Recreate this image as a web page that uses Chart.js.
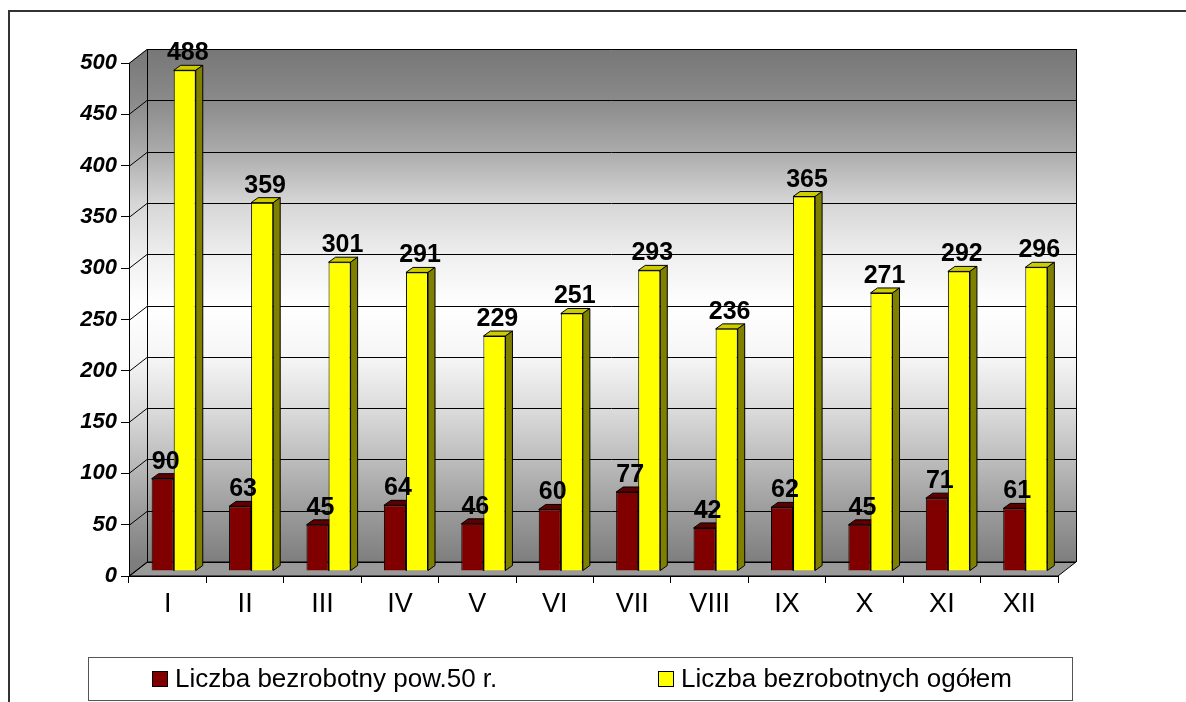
<!DOCTYPE html>
<html>
<head>
<meta charset="utf-8">
<script src="https://cdn.jsdelivr.net/npm/chart.js@4.4.1/dist/chart.umd.min.js"></script>
<style>
    html, body { margin: 0; padding: 0; background: #fff; }
    #wrap { width: 1186px; height: 702px; position: relative; }
</style>
</head>
<body>
<div id="wrap"><canvas id="chart"></canvas></div>
<script>
const months = ['I', 'II', 'III', 'IV', 'V', 'VI', 'VII', 'VIII', 'IX', 'X', 'XI', 'XII'];
const over50 = [90, 63, 45, 64, 46, 60, 77, 42, 62, 45, 71, 61];
const totalUnemployed = [488, 359, 301, 291, 229, 251, 293, 236, 365, 271, 292, 296];
const seriesNames = ['Liczba bezrobotny pow.50 r.', 'Liczba bezrobotnych ogółem'];

const FONT = 'Arial, "Liberation Sans", sans-serif';
// depth of the plot box and of a single bar (in px)
const DEPTH = { dx: 18, dy: -14 };
const BAR_SHIFT = { dx: 6, dy: -5 };
const BAR_DEPTH = { dx: 7, dy: -5 };

function wallGradient(ctx, top, bottom) {
    var g = ctx.createLinearGradient(0, top, 0, bottom);
    g.addColorStop(0, '#777777');
    g.addColorStop(0.1, '#8a8a8a');
    g.addColorStop(0.2, '#ababab');
    g.addColorStop(0.3, '#d6d6d6');
    g.addColorStop(0.42, '#f2f2f2');
    g.addColorStop(0.5, '#ffffff');
    g.addColorStop(0.6, '#f6f6f6');
    g.addColorStop(0.7, '#dcdcdc');
    g.addColorStop(0.8, '#bdbdbd');
    g.addColorStop(0.9, '#9c9c9c');
    g.addColorStop(1, '#7e7e7e');
    return g;
}

const walls = {
    id: 'walls',
    beforeDraw(chart) {
        const ctx = chart.ctx;
        const a = chart.chartArea;
        const y = chart.scales.y;
        ctx.save();
        // outer frame
        ctx.strokeStyle = '#333';
        ctx.lineWidth = 2;
        ctx.beginPath();
        ctx.moveTo(9, 702);
        ctx.lineTo(9, 11);
        ctx.lineTo(1186, 11);
        ctx.stroke();

        ctx.lineWidth = 1;
        ctx.strokeStyle = '#000';
        // back wall
        ctx.fillStyle = wallGradient(ctx, a.top + DEPTH.dy, a.bottom + DEPTH.dy);
        ctx.fillRect(a.left + DEPTH.dx, a.top + DEPTH.dy, a.right - a.left, a.bottom - a.top);
        // side wall
        ctx.beginPath();
        ctx.moveTo(a.left, a.top);
        ctx.lineTo(a.left + DEPTH.dx, a.top + DEPTH.dy);
        ctx.lineTo(a.left + DEPTH.dx, a.bottom + DEPTH.dy);
        ctx.lineTo(a.left, a.bottom);
        ctx.closePath();
        ctx.fill();
        // floor
        ctx.fillStyle = '#9a9a9a';
        ctx.beginPath();
        ctx.moveTo(a.left, a.bottom);
        ctx.lineTo(a.right, a.bottom);
        ctx.lineTo(a.right + DEPTH.dx, a.bottom + DEPTH.dy);
        ctx.lineTo(a.left + DEPTH.dx, a.bottom + DEPTH.dy);
        ctx.closePath();
        ctx.fill();
        ctx.stroke();

        // gridlines on the walls
        y.ticks.forEach(function (t) {
            const py = Math.round(y.getPixelForValue(t.value)) + 0.5;
            ctx.beginPath();
            ctx.moveTo(a.left, py);
            ctx.lineTo(a.left + DEPTH.dx, py + DEPTH.dy);
            ctx.lineTo(a.right + DEPTH.dx, py + DEPTH.dy);
            ctx.stroke();
        });
        // wall edges
        ctx.beginPath();
        ctx.moveTo(a.left + DEPTH.dx + 0.5, a.bottom + DEPTH.dy);
        ctx.lineTo(a.left + DEPTH.dx + 0.5, a.top + DEPTH.dy);
        ctx.moveTo(a.right + DEPTH.dx + 0.5, a.top + DEPTH.dy);
        ctx.lineTo(a.right + DEPTH.dx + 0.5, a.bottom + DEPTH.dy);
        ctx.stroke();
        ctx.restore();
    }
};

const bars3d = {
    id: 'bars3d',
    beforeDatasetsDraw(chart) {
        const ctx = chart.ctx;
        ctx.save();
        ctx.translate(BAR_SHIFT.dx, BAR_SHIFT.dy);
        ctx.lineWidth = 1;
        ctx.strokeStyle = '#000';
        chart.data.datasets.forEach(function (ds, i) {
            chart.getDatasetMeta(i).data.forEach(function (bar) {
                const p = bar.getProps(['x', 'y', 'base', 'width'], true);
                const l = p.x - p.width / 2, r = p.x + p.width / 2;
                // top face
                ctx.fillStyle = ds.topColor;
                ctx.beginPath();
                ctx.moveTo(l, p.y);
                ctx.lineTo(r, p.y);
                ctx.lineTo(r + BAR_DEPTH.dx, p.y + BAR_DEPTH.dy);
                ctx.lineTo(l + BAR_DEPTH.dx, p.y + BAR_DEPTH.dy);
                ctx.closePath();
                ctx.fill();
                ctx.stroke();
                // side face
                ctx.fillStyle = ds.sideColor;
                ctx.beginPath();
                ctx.moveTo(r, p.y);
                ctx.lineTo(r + BAR_DEPTH.dx, p.y + BAR_DEPTH.dy);
                ctx.lineTo(r + BAR_DEPTH.dx, p.base + BAR_DEPTH.dy);
                ctx.lineTo(r, p.base);
                ctx.closePath();
                ctx.fill();
                ctx.stroke();
            });
        });
    },
    afterDatasetsDraw(chart) {
        const ctx = chart.ctx;
        ctx.fillStyle = '#000';
        ctx.font = 'bold 25px ' + FONT;
        ctx.textAlign = 'center';
        ctx.textBaseline = 'alphabetic';
        chart.data.datasets.forEach(function (ds, i) {
            chart.getDatasetMeta(i).data.forEach(function (bar, j) {
                const p = bar.getProps(['x', 'y'], true);
                ctx.fillText(String(ds.data[j]), p.x + 3, p.y - 10);
            });
        });
        ctx.restore();
    }
};

const boxLegend = {
    id: 'boxLegend',
    afterDraw(chart) {
        const ctx = chart.ctx;
        const items = [152, 658];
        ctx.save();
        ctx.strokeStyle = '#555';
        ctx.lineWidth = 1;
        ctx.strokeRect(88.5, 657.5, 984, 43);
        ctx.font = '26px ' + FONT;
        ctx.textBaseline = 'middle';
        ctx.textAlign = 'left';
        chart.data.datasets.forEach(function (ds, i) {
            const x = items[i];
            ctx.fillStyle = ds.backgroundColor;
            ctx.fillRect(x, 671, 16, 16);
            ctx.strokeStyle = '#000';
            ctx.strokeRect(x + 0.5, 671.5, 15, 15);
            ctx.fillStyle = '#000';
            ctx.fillText(ds.label, x + 23, 680);
        });
        ctx.restore();
    }
};

new Chart(document.getElementById('chart'), {
    type: 'bar',
    data: {
        labels: months,
        datasets: [
            {
                label: seriesNames[0],
                data: over50,
                backgroundColor: '#800000',
                topColor: '#5c0000',
                sideColor: '#4a0000',
                borderColor: '#000',
                borderWidth: 1,
                categoryPercentage: 0.57,
                barPercentage: 1.0,
                clip: false,
            },
            {
                label: seriesNames[1],
                data: totalUnemployed,
                backgroundColor: '#ffff00',
                topColor: '#cccc00',
                sideColor: '#808000',
                borderColor: '#000',
                borderWidth: 1,
                categoryPercentage: 0.57,
                barPercentage: 1.0,
                clip: false,
            },
        ],
    },
    options: {
        responsive: true,
        maintainAspectRatio: false,
        animation: false,
        layout: {
            padding: { top: 63, right: 128, left: 0, bottom: 0 }
        },
        plugins: {
            legend: { display: false },
            tooltip: { enabled: false },
        },
        scales: {
            x: {
                afterFit: (s) => { s.height = 126; },
                grid: {
                    offset: true,
                    drawOnChartArea: false,
                    tickLength: 7,
                    color: '#000',
                },
                border: { color: '#000', width: 1 },
                ticks: {
                    color: '#000',
                    padding: 5,
                    font: { family: FONT, size: 27 },
                },
            },
            y: {
                min: 0,
                max: 500,
                afterFit: (s) => { s.width = 129; },
                grid: {
                    drawOnChartArea: false,
                    tickLength: 8,
                    color: '#000',
                },
                border: { color: '#000', width: 1 },
                ticks: {
                    stepSize: 50,
                    color: '#000',
                    padding: 4,
                    font: { family: FONT, size: 22, weight: 'bold', style: 'italic' },
                },
            },
        },
    },
    plugins: [walls, bars3d, boxLegend],
});
</script>
</body>
</html>
